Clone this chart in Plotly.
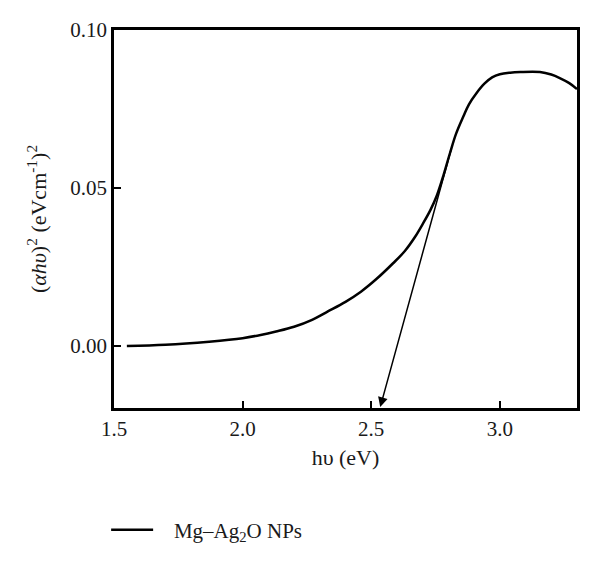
import plotly.graph_objects as go

# Data
energy_eV = [1.55, 1.70, 1.87, 2.00, 2.07, 2.13, 2.20, 2.27, 2.33, 2.40, 2.46, 2.52, 2.585,
             2.63, 2.67, 2.70, 2.73, 2.754, 2.78, 2.806, 2.83, 2.858, 2.88, 2.909, 2.94, 2.97,
             3.00, 3.04, 3.08, 3.156, 3.20, 3.233, 3.27, 3.30]
absorb_sq = [0.0000, 0.0004, 0.0014, 0.0025, 0.0035, 0.0046, 0.0061, 0.0083, 0.0109, 0.0140,
             0.0172, 0.0212, 0.0262, 0.0300, 0.0345, 0.0386, 0.0430, 0.0474, 0.0538, 0.0610,
             0.0672, 0.0726, 0.0765, 0.0800, 0.0830, 0.0850, 0.0860, 0.0865, 0.0867, 0.0867,
             0.0859, 0.0848, 0.0832, 0.0813]

# Tangent (band-gap extrapolation) arrow: start and end in data units
tangent_start = (2.812, 0.0626)
tangent_end = (2.535, -0.0193)

series_name = "\u00a0\u00a0\u00a0Mg–Ag<sub>2</sub>O NPs"
x_ticks = [1.5, 2.0, 2.5, 3.0]
y_ticks = [0.00, 0.05, 0.10]

FONT = "Liberation Serif"

fig = go.Figure()
fig.add_trace(go.Scatter(x=energy_eV, y=absorb_sq, mode="lines", name=series_name,
                         line=dict(color="black", width=2.5, shape="spline", smoothing=1)))

fig.add_annotation(x=tangent_end[0], y=tangent_end[1], ax=tangent_start[0], ay=tangent_start[1],
                   xref="x", yref="y", axref="x", ayref="y", text="", showarrow=True,
                   arrowhead=2, arrowsize=1.3, arrowwidth=1.5, arrowcolor="black")

fig.update_layout(
    width=600, height=562,
    margin=dict(l=114, r=23, t=30, b=154, autoexpand=False),
    plot_bgcolor="white", paper_bgcolor="white",
    font=dict(family=FONT, size=21, color="#1a1a1a"),
    showlegend=True,
    legend=dict(x=-0.017, y=-0.323, xanchor="left", yanchor="middle",
                font=dict(family=FONT, size=21, color="#1a1a1a"), itemwidth=42,
                bgcolor="rgba(0,0,0,0)"),
    xaxis=dict(range=[1.5, 3.3], tickvals=x_ticks, tickformat=".1f",
               showline=True, linecolor="black", linewidth=2.5, mirror=True,
               ticks="inside", ticklen=7, tickwidth=2, tickcolor="black",
               showgrid=False, zeroline=False,
               title=dict(text="hυ (eV)", font=dict(size=22), standoff=10)),
    yaxis=dict(range=[-0.0196, 0.1], tickvals=y_ticks, tickformat=".2f",
               showline=True, linecolor="black", linewidth=2.5, mirror=True,
               ticks="inside", ticklen=7, tickwidth=2, tickcolor="black",
               showgrid=False, zeroline=False,
               title=dict(text="(<i>αhυ</i>)<sup>2</sup> (eVcm<sup>-1</sup>)<sup>2</sup>",
                          font=dict(size=22), standoff=18)),
)

fig.write_html("out.html")
